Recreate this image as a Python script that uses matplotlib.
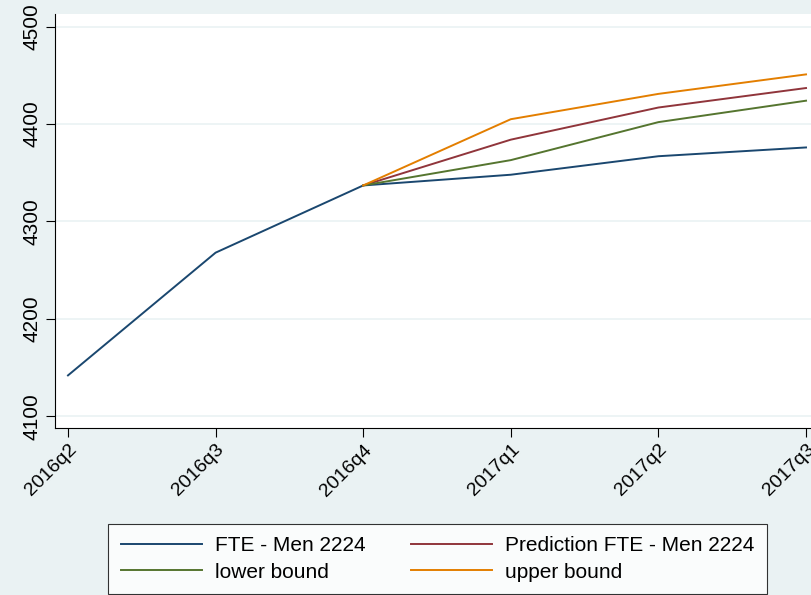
import matplotlib
matplotlib.use("Agg")
from matplotlib import pyplot as plt

quarters = ["2016q2", "2016q3", "2016q4", "2017q1", "2017q2", "2017q3"]
fte = [4142, 4268, 4337, 4348, 4367, 4376]
pred_q = ["2016q4", "2017q1", "2017q2", "2017q3"]
prediction = [4337, 4384, 4417, 4437]
lower = [4337, 4363, 4402, 4424]
upper = [4337, 4405, 4431, 4451]
yticks = [4100, 4200, 4300, 4400, 4500]

bg = "#eaf2f3"
plt.rcParams["font.family"] = ["Liberation Sans", "DejaVu Sans"]

fig = plt.figure(figsize=(8.12, 5.95), dpi=100, facecolor=bg)
ax = fig.add_axes([55 / 812, 1 - 428 / 595, 764 / 812, 414 / 595])
ax.set_facecolor("white")

xs = list(range(len(quarters)))
xp = [quarters.index(q) for q in pred_q]
ax.plot(xs, fte, color="#1a476f", lw=1.4, label="FTE - Men 2224")
ax.plot(xp, prediction, color="#90353b", lw=1.4, label="Prediction FTE - Men 2224")
ax.plot(xp, lower, color="#55752f", lw=1.4, label="lower bound")
ax.plot(xp, upper, color="#e37e00", lw=1.4, label="upper bound")

ax.set_xlim(-0.088, 5.088)
ax.set_ylim(4088, 4513)
ax.set_xticks(xs)
ax.set_xticklabels(quarters, rotation=45, ha="right", rotation_mode="anchor", fontsize=14)
ax.set_yticks(yticks)
ax.set_yticklabels([str(v) for v in yticks], rotation=90, va="center", fontsize=15)
ax.grid(axis="y", color=bg, lw=1.2)
ax.set_axisbelow(True)
for s in ["top", "right"]:
    ax.spines[s].set_visible(False)
for s in ["left", "bottom"]:
    ax.spines[s].set_color("black")
    ax.spines[s].set_linewidth(0.8)
ax.tick_params(length=6.5, width=0.8, colors="black", pad=3)

# row-wise legend order: matplotlib fills columns first
h, l = ax.get_legend_handles_labels()
order = [0, 2, 1, 3]
leg = fig.legend([h[i] for i in order], [l[i] for i in order], ncol=2, loc="center",
                 bbox_to_anchor=(437.5 / 812, 1 - 559 / 595),
                 frameon=True, fancybox=False, edgecolor="black", facecolor="white",
                 fontsize=15, handlelength=3.9, handletextpad=0.6, columnspacing=2.2,
                 borderpad=0.6, borderaxespad=0, labelspacing=0.35)
leg.get_frame().set_linewidth(0.8)

fig.savefig("out.png", dpi=100, facecolor=bg)
